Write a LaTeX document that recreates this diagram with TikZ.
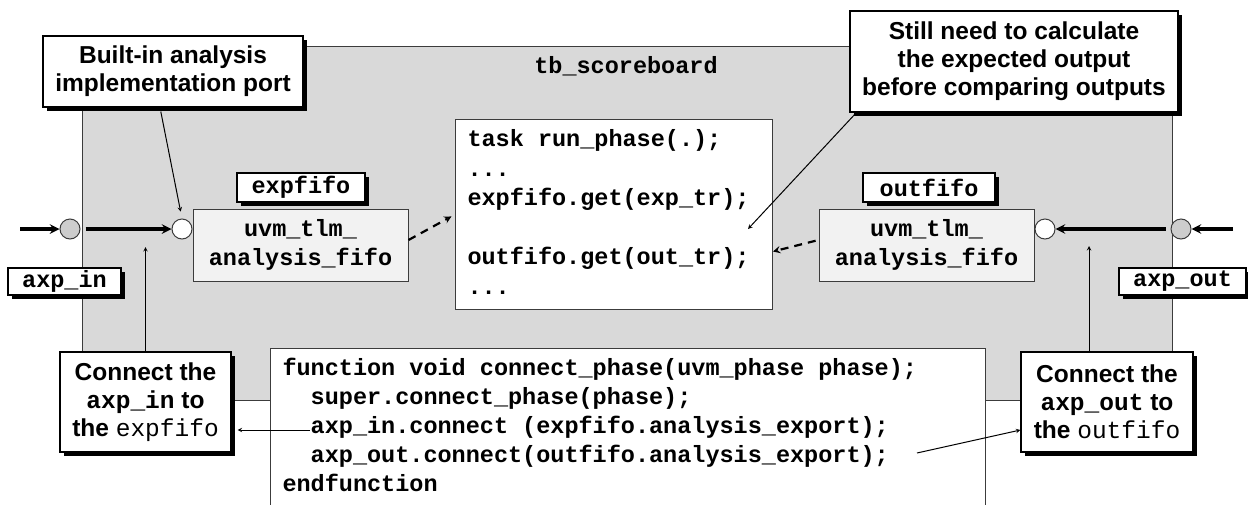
\documentclass[tikz,border=0pt]{standalone}
\usepackage{fontspec}
\setmainfont{Liberation Sans}
\setmonofont{Liberation Mono}
\usetikzlibrary{shadows}
\definecolor{sbgrey}{RGB}{217,217,217}
\definecolor{fifofill}{RGB}{242,242,242}
\definecolor{portgrey}{RGB}{205,205,205}
\definecolor{edge}{RGB}{60,60,60}
% one mono character wide
\newcommand{\blank}{\hphantom{x}}

\begin{document}
\begin{tikzpicture}[x=1pt, y=-1pt]
    \tikzstyle{callout} = [rectangle, draw=black, line width=1.2pt, fill=white, align=center, inner sep=0pt, font=\fontsize{24.5}{28}\selectfont\bfseries, drop shadow={shadow xshift=4pt, shadow yshift=-4pt, fill=black, opacity=1}]
    \tikzstyle{tag} = [rectangle, draw=black, line width=1.2pt, fill=white, inner sep=0pt, font=\fontsize{23.5}{28}\selectfont\ttfamily\bfseries, drop shadow={shadow xshift=4pt, shadow yshift=-4pt, fill=black, opacity=1}]
    \tikzstyle{fifo} = [rectangle, draw=edge, line width=1pt, fill=fifofill, align=center, inner sep=0pt, minimum width=215pt, minimum height=72pt, font=\fontsize{23.5}{29}\selectfont\ttfamily\bfseries]
    \tikzstyle{code} = [rectangle, draw=edge, line width=1pt, fill=white, align=left, inner xsep=12pt, inner ysep=10pt, text height=17pt]
    \tikzstyle{port} = [circle, draw=edge, line width=1pt, minimum size=20pt, inner sep=0pt]
    \tikzstyle{bus} = [->, >=stealth, line width=3.2pt]
    \tikzstyle{pointer} = [->, >=stealth, line width=1pt]
    \tikzstyle{flow} = [->, >=stealth, line width=2.2pt, dash pattern=on 8pt off 6pt]
    \useasboundingbox (0,0) rectangle (1248,504);

    \node[draw=edge, fill=sbgrey, line width=1pt, anchor=north west, minimum width=1090pt, minimum height=354pt, inner sep=0pt] (scoreboard) at (82,46) {};
    \node[font=\fontsize{23.5}{28}\selectfont\ttfamily\bfseries] (sbtitle) at (626,66) {tb\_scoreboard};

    \node[callout, minimum width=260pt, minimum height=71pt] (builtin) at (173,71.5) {Built-in analysis\\implementation port};
    \node[callout, minimum width=328pt, minimum height=101pt] (stillcalc) at (1014,61.5) {Still need to calculate\\the expected output\\before comparing outputs};
    \node[callout, minimum width=171pt, minimum height=100pt] (connL) at (145.5,402) {Connect the\\{\ttfamily axp\_in} to\\the {\ttfamily\mdseries expfifo}};
    \node[callout, minimum width=172pt, minimum height=100pt] (connR) at (1107,402) {Connect the\\{\ttfamily axp\_out} to\\the {\ttfamily\mdseries outfifo}};

    \node[tag, minimum width=128pt, minimum height=29pt] (expname) at (301,187.5) {expfifo};
    \node[tag, minimum width=132pt, minimum height=29pt] (outname) at (929,187.5) {outfifo};
    \node[tag, minimum width=113pt, minimum height=27pt] (inname) at (64.5,281.5) {axp\_in};
    \node[tag, minimum width=127pt, minimum height=27pt] (outpname) at (1182.5,281.5) {axp\_out};

    \node[fifo] (fifoL) at (300.5,245) {uvm\_tlm\_\\analysis\_fifo};
    \node[fifo] (fifoR) at (926.5,245) {uvm\_tlm\_\\analysis\_fifo};

    \node[port, fill=portgrey] (portL) at (70,229) {};
    \node[port, fill=white] (impL) at (182,229) {};
    \node[port, fill=white] (impR) at (1045,229) {};
    \node[port, fill=portgrey] (portR) at (1181,229) {};

    \node[code, anchor=north west, text width=293pt, font=\fontsize{23.5}{29.5}\selectfont\ttfamily\bfseries] (runphase) at (455,119) {task\blank run\_phase(.);\\...\\expfifo.get(exp\_tr);\\[29.5pt]outfifo.get(out\_tr);\\...\rule[-5.5pt]{0pt}{0pt}};
    \node[code, anchor=north west, text width=691pt, font=\fontsize{23.5}{29}\selectfont\ttfamily\bfseries] (connphase) at (270,348) {function\blank void\blank connect\_phase(uvm\_phase\blank phase);\\\blank\blank super.connect\_phase(phase);\\\blank\blank axp\_in.connect\blank(expfifo.analysis\_export);\\\blank\blank axp\_out.connect(outfifo.analysis\_export);\\endfunction\rule[-30pt]{0pt}{0pt}};

    \coordinate (feedL) at (20,229);
    \coordinate (feedR) at (1233,229);
    \draw[bus] (feedL) -- (portL.west);
    \draw[bus, shorten <=5pt] (portL.east) -- (impL.west);
    \draw[bus] (feedR) -- (portR.east);
    \draw[bus, shorten <=5pt] (portR.west) -- (impR.east);

    \draw[flow, shorten >=4pt] ([yshift=5pt]fifoL.east) -- (runphase.west);
    \draw[flow, shorten <=3pt] ([yshift=5pt]fifoR.west) -- ([yshift=-37pt]runphase.east);

    \coordinate (expcalc) at (748,229);
    \coordinate (hookL) at (145.5,247);
    \coordinate (hookR) at (1089,246);
    \coordinate (inline) at (310,430);
    \coordinate (outline) at (917,453);
    \draw[pointer, shorten <=4pt, shorten >=7pt] ([xshift=-13pt]builtin.south) -- (impL.north);
    \draw[pointer, shorten <=3pt] ([xshift=7pt]stillcalc.south west) -- (expcalc);
    \draw[pointer] (connL.north) -- (hookL);
    \draw[pointer] ([xshift=-18pt]connR.north) -- (hookR);
    \draw[pointer, shorten >=6pt] (inline) -- (inline -| connL.east);
    \draw[pointer] (outline) -- ([yshift=-28pt]connR.west);
\end{tikzpicture}
\end{document}
